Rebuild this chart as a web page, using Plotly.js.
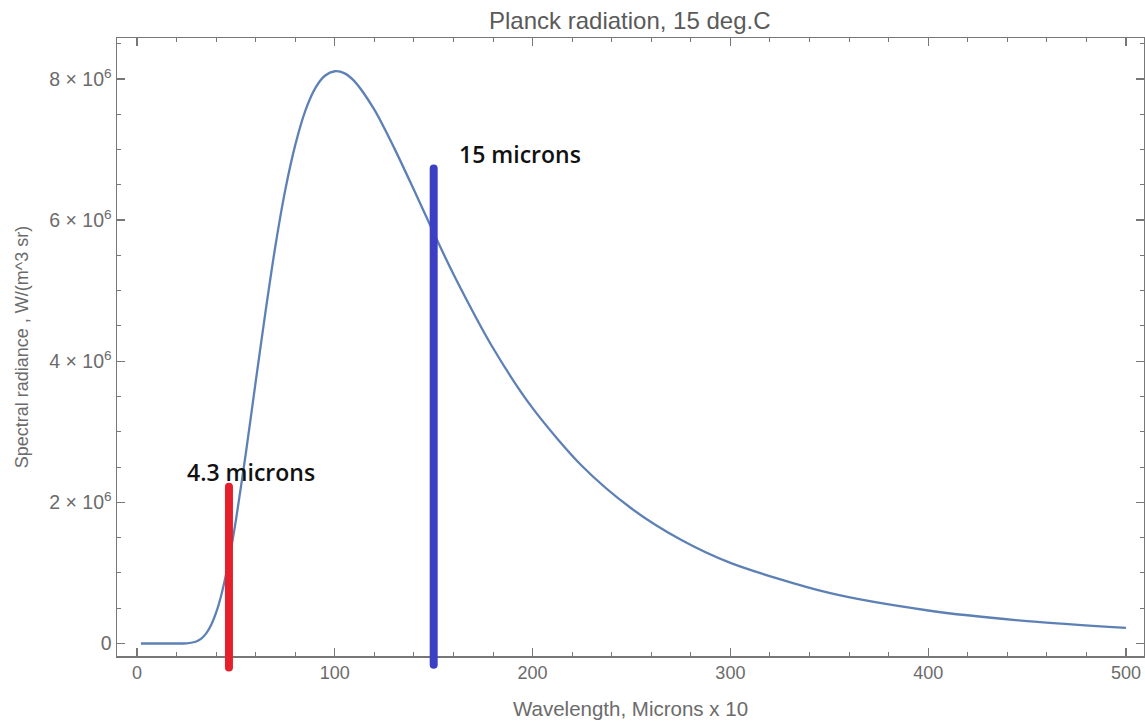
<!DOCTYPE html>
<html>
<head>
<meta charset="utf-8">
<script src="https://cdn.plot.ly/plotly-3.0.1.min.js"></script>
<style>html,body{margin:0;padding:0;background:#fff;}#chart{width:1145px;height:721px;}</style>
</head>
<body>
<div id="chart"></div>
<script>
// Wavelength in microns x 10
const wavelength = [2, 10, 20, 25, 30, 32.5, 35, 37.5, 40, 42.5, 45, 47.5, 50, 55, 60, 65, 70, 75, 80, 85, 90, 95, 100, 105, 110, 120, 130, 140, 150, 160, 180, 200, 225, 250, 275, 300, 350, 400, 450, 500];
// Spectral radiance, W/(m^3 sr)
const radiance = [0, 0, 100, 3000, 29000, 70000, 144000, 263000, 437000, 674000, 974000, 1334000, 1745000, 2689000, 3708000, 4706000, 5637000, 6432000, 7063000, 7542000, 7864000, 8046000, 8110000, 8080000, 7966000, 7565000, 7024000, 6430000, 5820000, 5234000, 4188000, 3335000, 2515000, 1913000, 1470000, 1143000, 716000, 468000, 317000, 222000];

// Marker lines
const markerLabels = ["4.3 microns", "15 microns"];
const markerX = [46.5, 150];
const markerTop = [2220000, 6730000];
const markerBottom = [-340000, -300000];
const markerColors = ["#e5202b", "#3c3fc4"];
const labelX = [24.4, 161.6];
const labelY = [2430000, 6940000];

// Ticks
const xTickVals = [0, 100, 200, 300, 400, 500];
const xTickText = ["0", "100", "200", "300", "400", "500"];
const yTickVals = [0, 2000000, 4000000, 6000000, 8000000];
const yTickText = ["0", "2 × 10<sup>6</sup>", "4 × 10<sup>6</sup>", "6 × 10<sup>6</sup>", "8 × 10<sup>6</sup>"];

const xRange = [-10.1, 509.1];
const yRange = [-177000, 8581000];
function toPaper(v) { return (v - yRange[0]) / (yRange[1] - yRange[0]); }

const axisColor = "#777";
const textColor = "#6b6b6b";
const sans = "Liberation Sans, Arial, sans-serif";

const shapes = markerX.map((x, i) => ({
  type: "line", xref: "x", yref: "paper",
  x0: x, x1: x, y0: toPaper(markerBottom[i]), y1: toPaper(markerTop[i]),
  line: {color: markerColors[i], width: 8}
}));

const annotations = markerLabels.map((t, i) => ({
  x: labelX[i], y: labelY[i], xref: "x", yref: "y",
  text: t, showarrow: false, xanchor: "left", yanchor: "middle",
  font: {family: "Open Sans, Noto Sans, sans-serif", size: 23, weight: 600, color: "#111"}
}));

const trace = {
  x: wavelength, y: radiance, type: "scatter", mode: "lines",
  line: {color: "#5e81b5", width: 2.3, shape: "spline", smoothing: 0.8},
  hoverinfo: "skip"
};

const layout = {
  width: 1145, height: 721,
  margin: {l: 117, r: 1, t: 38, b: 65},
  paper_bgcolor: "#fff", plot_bgcolor: "#fff",
  showlegend: false,
  title: {text: "Planck radiation, 15 deg.C", x: 0.55, xanchor: "center", y: 0.972, yanchor: "middle",
          font: {family: sans, size: 24, color: "#5a5a5a"}},
  xaxis: {
    range: xRange, showgrid: false, zeroline: false,
    showline: true, linecolor: axisColor, linewidth: 1.5, mirror: "ticks",
    ticks: "inside", ticklen: 8, tickwidth: 1.3, tickcolor: axisColor,
    tickmode: "array", tickvals: xTickVals, ticktext: xTickText,
    tickfont: {family: sans, size: 18, color: textColor},
    minor: {dtick: 20, tick0: 0, ticks: "inside", ticklen: 4, tickwidth: 1, tickcolor: axisColor, showgrid: false},
    title: {text: "Wavelength, Microns x 10", standoff: 19,
            font: {family: sans, size: 20.5, color: textColor}}
  },
  yaxis: {
    range: yRange, showgrid: false, zeroline: false,
    showline: true, linecolor: axisColor, linewidth: 1.5, mirror: "ticks",
    ticks: "inside", ticklen: 8, tickwidth: 1.3, tickcolor: axisColor,
    tickmode: "array", tickvals: yTickVals, ticktext: yTickText,
    tickfont: {family: sans, size: 19.5, color: textColor},
    minor: {dtick: 500000, tick0: 0, ticks: "inside", ticklen: 4, tickwidth: 1, tickcolor: axisColor, showgrid: false},
    title: {text: "Spectral radiance , W/(m^3 sr)", standoff: 16,
            font: {family: sans, size: 18, color: textColor}}
  },
  shapes: shapes,
  annotations: annotations
};

Plotly.newPlot("chart", [trace], layout, {staticPlot: true, displayModeBar: false}).then(() => {
  document.querySelectorAll(".shapelayer path").forEach(p => { p.style.strokeLinecap = "round"; });
});
</script>
</body>
</html>
